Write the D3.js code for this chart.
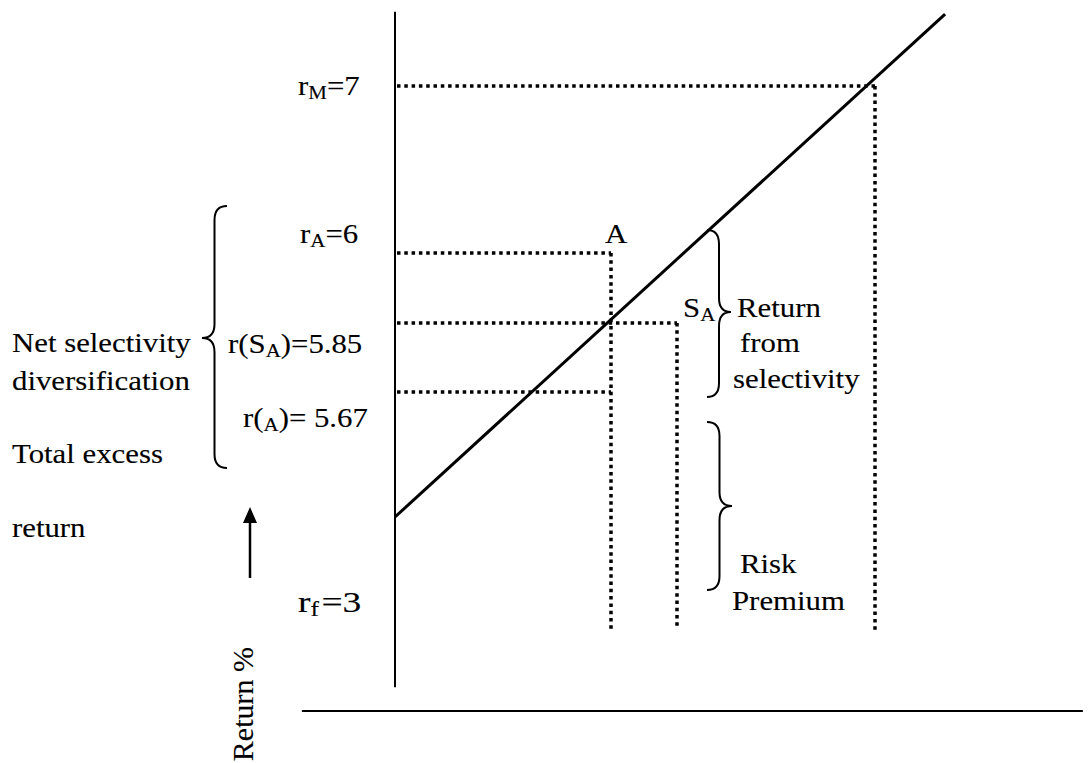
<!DOCTYPE html>
<html><head><meta charset="utf-8">
<script src="https://cdn.jsdelivr.net/npm/d3@7/dist/d3.min.js"></script>
<style>
html,body{margin:0;padding:0;background:#fff;}
svg{display:block;}
text{font-family:"Liberation Serif","Times New Roman",serif;fill:#000;stroke:#000;stroke-width:0.12px;}
</style></head>
<body>
<script>
// ---------- DATA (schematic units: beta on x, return % on y) ----------
const smlBeta = [0, 1.146];
const smlReturn = [3, 7.668];
// horizontal dotted guides: level and how far right they go
const guideLevels = [7, 5.45, 4.80, 4.16];
const guideEnds   = [1.0, 0.45, 0.5875, 0.45];
// vertical dotted guides
const dropBetas = [1.0, 0.45, 0.5875];
const dropTops  = [7, 5.45, 4.80];
const dropBottoms = [1.93, 1.93, 1.96];
// axes extents
const yAxisRange = [1.42, 7.69];
const xAxisRange = [-0.194, 1.433];
const xAxisLevel = 1.2;
// value labels
const labelBase = ["r", "r", "r(S", "r(", "r"];
const labelSub  = ["M", "A", "A", "A", "f"];
const labelRest = ["=7", "=6", ")=5.85", ")= 5.67", "=3"];
// descriptive texts
const leftTexts  = ["Net selectivity", "diversification", "Total excess", "return"];
const rightTexts = ["Return", "from", "selectivity"];
const riskTexts  = ["Risk", "Premium"];
const axisTitle = "Return %";

// ---------- LAYOUT ----------
const W = 1088, H = 763;
const FS = 28, SX = 1.1;
const svg = d3.select("body").append("svg").attr("width", W).attr("height", H);
const x = d3.scaleLinear().domain([0, 1]).range([395, 875]);
const y = d3.scaleLinear().domain([3, 7]).range([517, 86]);

// axes
svg.append("line").attr("x1", x(0)).attr("x2", x(0))
  .attr("y1", y(yAxisRange[0])).attr("y2", y(yAxisRange[1]))
  .attr("stroke", "#000").attr("stroke-width", 2);
svg.append("line").attr("x1", x(xAxisRange[0])).attr("x2", x(xAxisRange[1]))
  .attr("y1", y(xAxisLevel)).attr("y2", y(xAxisLevel))
  .attr("stroke", "#000").attr("stroke-width", 2);

// dotted guides
const dot = {stroke:"#000", w:3.5, dash:"3.5,3.8"};
svg.selectAll("line.gh").data(guideLevels).join("line").attr("class", "gh")
  .attr("x1", x(0) + 2).attr("x2", (d, i) => x(guideEnds[i]))
  .attr("y1", d => y(d)).attr("y2", d => y(d))
  .attr("stroke", dot.stroke).attr("stroke-width", dot.w).attr("stroke-dasharray", dot.dash);
svg.selectAll("line.gv").data(dropBetas).join("line").attr("class", "gv")
  .attr("x1", d => x(d)).attr("x2", d => x(d))
  .attr("y1", (d, i) => y(dropTops[i])).attr("y2", (d, i) => y(dropBottoms[i]))
  .attr("stroke", dot.stroke).attr("stroke-width", dot.w).attr("stroke-dasharray", dot.dash);

// SML line
const line = d3.line().x(d => x(d[0])).y(d => y(d[1]));
svg.append("path").datum(smlBeta.map((b, i) => [b, smlReturn[i]]))
  .attr("d", line).attr("fill", "none").attr("stroke", "#000").attr("stroke-width", 3);

// text helper
function label(px, py, parts, fs, sx) {
  fs = fs || FS; sx = sx || SX;
  const g = svg.append("g").attr("transform", `translate(${px},${py}) scale(${sx},1)`);
  const t = g.append("text").attr("font-size", fs);
  parts.forEach(p => {
    const ts = t.append("tspan").text(p.t);
    if (p.sub) ts.attr("font-size", fs * 0.68).attr("dy", p.dy);
    else if (p.dy) ts.attr("dy", p.dy);
    if (p.dx) ts.attr("dx", p.dx);
  });
  return g;
}

// value labels
const labelPos = [[298, 95], [300, 243], [228, 353], [243, 427], [298, 612]];
labelBase.forEach((b, i) => {
  const parts = [{t: b}, {t: labelSub[i], sub: true, dy: 4}, {t: labelRest[i], dy: -4}];
  if (i === 4) { parts[2].dx = 2; label(labelPos[i][0], labelPos[i][1], parts, 30, 1.25); }
  else label(labelPos[i][0], labelPos[i][1], parts);
});

// point labels
label(605, 243, [{t: "A"}]);
label(683, 317, [{t: "S"}, {t: "A", sub: true, dy: 4}]);

// descriptive text blocks
const leftY = [352, 390, 463, 537];
leftTexts.forEach((t, i) => label(12, leftY[i], [{t}]));
const rightPos = [[737, 317], [740, 352], [733, 388]];
rightTexts.forEach((t, i) => label(rightPos[i][0], rightPos[i][1], [{t}]));
const riskPos = [[740, 573], [732, 610]];
riskTexts.forEach((t, i) => label(riskPos[i][0], riskPos[i][1], [{t}]));

// rotated axis title
svg.append("g").attr("transform", "translate(253,647) rotate(-90)")
  .append("text").attr("font-size", 30).attr("text-anchor", "end").text(axisTitle);

// arrow
svg.append("line").attr("x1", 250).attr("x2", 250).attr("y1", 578).attr("y2", 520)
  .attr("stroke", "#000").attr("stroke-width", 2.5);
svg.append("path").attr("d", "M250,507 L243,523 L257,523 Z").attr("fill", "#000");

// braces
function brace(x0, y0, y1, tipX, ym) {
  const sp = (x0 + tipX) / 2, r = 14;
  const p = `M${x0},${y0} Q${sp},${y0} ${sp},${y0 + r} L${sp},${ym - r} Q${sp},${ym} ${tipX},${ym}` +
            ` Q${sp},${ym} ${sp},${ym + r} L${sp},${y1 - r} Q${sp},${y1} ${x0},${y1}`;
  svg.append("path").attr("d", p).attr("fill", "none").attr("stroke", "#000").attr("stroke-width", 2);
}
brace(227, 206, 468, 202, 338);
brace(707, 230, 397, 731, 312);
brace(707, 422, 590, 732, 506);
</script>
</body></html>
